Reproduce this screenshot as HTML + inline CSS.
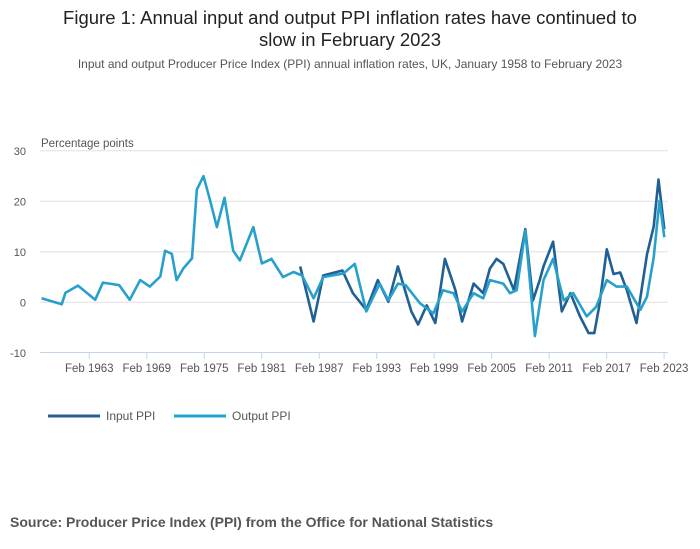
<!DOCTYPE html>
<html><head><meta charset="utf-8"><style>
body{margin:0;width:700px;height:549px;background:#fff;font-family:"Liberation Sans",sans-serif;overflow:hidden}
</style></head><body>
<svg width="700" height="549" style="position:absolute;left:0;top:0">
<text x="350" y="24" text-anchor="middle" font-size="18.5" fill="#222">Figure 1: Annual input and output PPI inflation rates have continued to</text>
<text x="350" y="46" text-anchor="middle" font-size="18.5" fill="#222">slow in February 2023</text>
<text x="350" y="68" text-anchor="middle" font-size="12" fill="#555">Input and output Producer Price Index (PPI) annual inflation rates, UK, January 1958 to February 2023</text>
<text x="41" y="147" font-size="11.5" fill="#555">Percentage points</text>
<g id="grid"></g><g id="xaxis"></g><g id="series"></g>
<g>
<line x1="48" y1="416" x2="100" y2="416" stroke="#206095" stroke-width="3"/>
<text x="106" y="420" font-size="12" fill="#555">Input PPI</text>
<line x1="174" y1="416" x2="226" y2="416" stroke="#27a0cc" stroke-width="3"/>
<text x="232" y="420" font-size="12" fill="#555">Output PPI</text>
</g>
<text x="10" y="527" font-size="14" font-weight="bold" fill="#555">Source: Producer Price Index (PPI) from the Office for National Statistics</text>
</svg>
<script>
const yTicks=[30,20,10,0,-10];
const xTickYears=[1963,1969,1975,1981,1987,1993,1999,2005,2011,2017,2023];
const outYears=[1958.1,1960.2,1960.6,1961.9,1963.7,1964.5,1966.2,1967.3,1968.4,1969.4,1970.5,1971.0,1971.7,1972.2,1972.9,1973.8,1974.3,1975.0,1975.7,1976.4,1977.2,1978.1,1978.8,1980.2,1981.1,1982.1,1983.3,1984.4,1985.3,1986.5,1987.5,1989.6,1990.8,1992.0,1993.4,1994.3,1995.3,1996.1,1997.6,1999.0,2000.0,2001.1,2002.0,2003.2,2004.2,2004.9,2006.3,2007.0,2007.7,2008.6,2009.6,2010.5,2011.5,2012.6,2013.6,2015.0,2016.0,2017.1,2018.1,2019.2,2020.6,2021.3,2022.0,2022.6,2023.1];
const outVals=[0.8,-0.4,1.9,3.3,0.5,3.9,3.4,0.5,4.4,3.1,5.1,10.2,9.6,4.4,6.7,8.7,22.3,25,20.1,14.9,20.7,10.2,8.3,14.9,7.7,8.6,5.0,6.0,5.3,0.8,5.0,5.7,7.6,-1.8,3.7,0.4,3.7,3.4,-0.2,-2.2,2.4,1.8,-1.8,1.8,0.8,4.4,3.7,1.8,2.4,14.2,-6.7,4.4,8.6,0.4,1.8,-2.8,-0.9,4.4,3.1,3.1,-1.5,1.1,8.9,20.1,12.9];
const inYears=[1985.1,1986.5,1987.5,1989.5,1990.6,1992.0,1993.2,1994.3,1995.3,1996.7,1997.4,1998.3,1999.2,2000.2,2001.3,2002.0,2003.2,2004.2,2004.9,2005.6,2006.3,2007.4,2008.6,2009.4,2010.1,2010.5,2011.5,2012.4,2013.3,2014.3,2015.2,2015.8,2016.3,2017.1,2017.8,2018.5,2019.2,2020.2,2021.3,2022.0,2022.5,2023.1];
const inVals=[7.1,-3.8,5.3,6.3,1.8,-1.5,4.4,0.1,7.1,-1.8,-4.4,-0.6,-4.1,8.6,2.4,-3.8,3.7,1.8,6.7,8.6,7.6,2.4,14.5,0.4,4.4,7.1,12.0,-1.8,1.8,-2.8,-6.1,-6.1,-0.9,10.5,5.6,5.9,2.4,-4.1,9.5,15.0,24.3,14.5];
const ns="http://www.w3.org/2000/svg";
const X=yr=>40.6+(yr-1958.0)*9.58;
const Y=v=>302.3-v*5.05;
function mk(tag,attrs,parent){const e=document.createElementNS(ns,tag);for(const k in attrs)e.setAttribute(k,attrs[k]);parent.appendChild(e);return e;}
const grid=document.getElementById('grid');
yTicks.forEach(t=>{
  if(t!==-10){const l=mk('line',{x1:40,x2:668,y1:Y(t),y2:Y(t),stroke:'#e0e0e0','stroke-width':1},grid);
  
  }
  const tx=mk('text',{x:26,y:Y(t)+4,'text-anchor':'end','font-size':11,fill:'#555'},grid);
  tx.textContent=t;
  
  
});
const xa=document.getElementById('xaxis');
const al=mk('line',{x1:40,x2:668,y1:352.5,y2:352.5,stroke:'#c5d4ea','stroke-width':1},xa);


xTickYears.forEach(yr=>{
  const x=X(yr+1/12);
  const tk=mk('line',{x1:x,x2:x,y1:352,y2:359,stroke:'#c5d4ea'},xa);
  
  
  const tx=mk('text',{x:x,y:372,'text-anchor':'middle','font-size':11.5,fill:'#555'},xa);
  tx.textContent='Feb '+yr;
  
  
});
const sg=document.getElementById('series');
function line(ys,vs,color,name){
  const d=ys.map((y,i)=>(i?'L':'M')+X(y).toFixed(1)+','+Y(vs[i]).toFixed(1)).join('');
  const p=mk('path',{d:d,fill:'none',stroke:color,'stroke-width':2.6,'stroke-linejoin':'round'},sg);
  
  
}
line(inYears,inVals,'#206095','input-ppi-line');
line(outYears,outVals,'#27a0cc','output-ppi-line');
</script>
</body></html>
